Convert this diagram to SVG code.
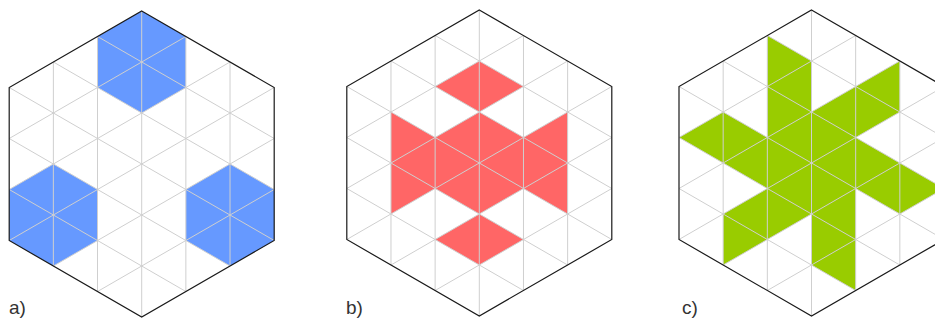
<svg xmlns="http://www.w3.org/2000/svg" xmlns:xlink="http://www.w3.org/1999/xlink" width="935" height="320" viewBox="0 0 935 320">
<style>
.grid line{stroke:#cfcfcf;stroke-width:1;fill:none}
.outline{fill:none;stroke:#1a1a1a;stroke-width:1.2;stroke-linejoin:miter}
.blue{fill:#6699FF}
.red{fill:#FF6666}
.green{fill:#99CC00}
.label{font-family:"Liberation Sans",Arial,sans-serif;font-size:19px;fill:#333}
</style>
<defs>
<clipPath id="hexclip">
<polygon points="0,-153 132.5,-76.5 132.5,76.5 0,153 -132.5,76.5 -132.5,-76.5"/>
</clipPath>
<g id="grid" class="grid" clip-path="url(#hexclip)">
<line x1="-88.33" y1="-160" x2="-88.33" y2="160"/>
<line x1="-44.17" y1="-160" x2="-44.17" y2="160"/>
<line x1="0" y1="-160" x2="0" y2="160"/>
<line x1="44.17" y1="-160" x2="44.17" y2="160"/>
<line x1="88.33" y1="-160" x2="88.33" y2="160"/>
<line x1="-140" y1="-182.83" x2="140" y2="-21.17"/>
<line x1="-140" y1="-131.83" x2="140" y2="29.83"/>
<line x1="-140" y1="-80.83" x2="140" y2="80.83"/>
<line x1="-140" y1="-29.83" x2="140" y2="131.83"/>
<line x1="-140" y1="21.17" x2="140" y2="182.83"/>
<line x1="-140" y1="-21.17" x2="140" y2="-182.83"/>
<line x1="-140" y1="29.83" x2="140" y2="-131.83"/>
<line x1="-140" y1="80.83" x2="140" y2="-80.83"/>
<line x1="-140" y1="131.83" x2="140" y2="-29.83"/>
<line x1="-140" y1="182.83" x2="140" y2="21.17"/>
</g>
<polygon id="hexoutline" class="outline" points="0,-153 132.5,-76.5 132.5,76.5 0,153 -132.5,76.5 -132.5,-76.5"/>
</defs>

<g id="panel-a" transform="translate(141.7,164)">
<polygon class="blue" points="0,-153 44.17,-127.5 44.17,-76.5 0,-51 -44.17,-76.5 -44.17,-127.5"/>
<polygon class="blue" points="-88.33,0 -44.17,25.5 -44.17,76.5 -88.33,102 -132.5,76.5 -132.5,25.5"/>
<polygon class="blue" points="88.33,0 132.5,25.5 132.5,76.5 88.33,102 44.17,76.5 44.17,25.5"/>
<use xlink:href="#grid" href="#grid"/>
<use xlink:href="#hexoutline" href="#hexoutline"/>
</g>

<g id="panel-b" transform="translate(479.3,163)">
<polygon class="red" points="0,-102 44.17,-76.5 0,-51 -44.17,-76.5"/>
<polygon class="red" points="0,51 44.17,76.5 0,102 -44.17,76.5"/>
<polygon class="red" points="-88.33,-51 -44.17,-25.5 0,-51 44.17,-25.5 88.33,-51 88.33,51 44.17,25.5 0,51 -44.17,25.5 -88.33,51"/>
<use xlink:href="#grid" href="#grid"/>
<use xlink:href="#hexoutline" href="#hexoutline"/>
</g>

<g id="panel-c" transform="translate(811.5,163)">
<polygon class="green" points="-44.17,-127.5 0,-102 0,-51 88.33,-102 88.33,-51 44.17,-25.5 132.5,25.5 88.33,51 44.17,25.5 44.17,127.5 0,102 0,51 -88.33,102 -88.33,51 -44.17,25.5 -132.5,-25.5 -88.33,-51 -44.17,-25.5"/>
<use xlink:href="#grid" href="#grid"/>
<use xlink:href="#hexoutline" href="#hexoutline"/>
</g>

<g id="labels">
<text class="label" x="9" y="314">a)</text>
<text class="label" x="346" y="314">b)</text>
<text class="label" x="682" y="314">c)</text>
</g>
</svg>
